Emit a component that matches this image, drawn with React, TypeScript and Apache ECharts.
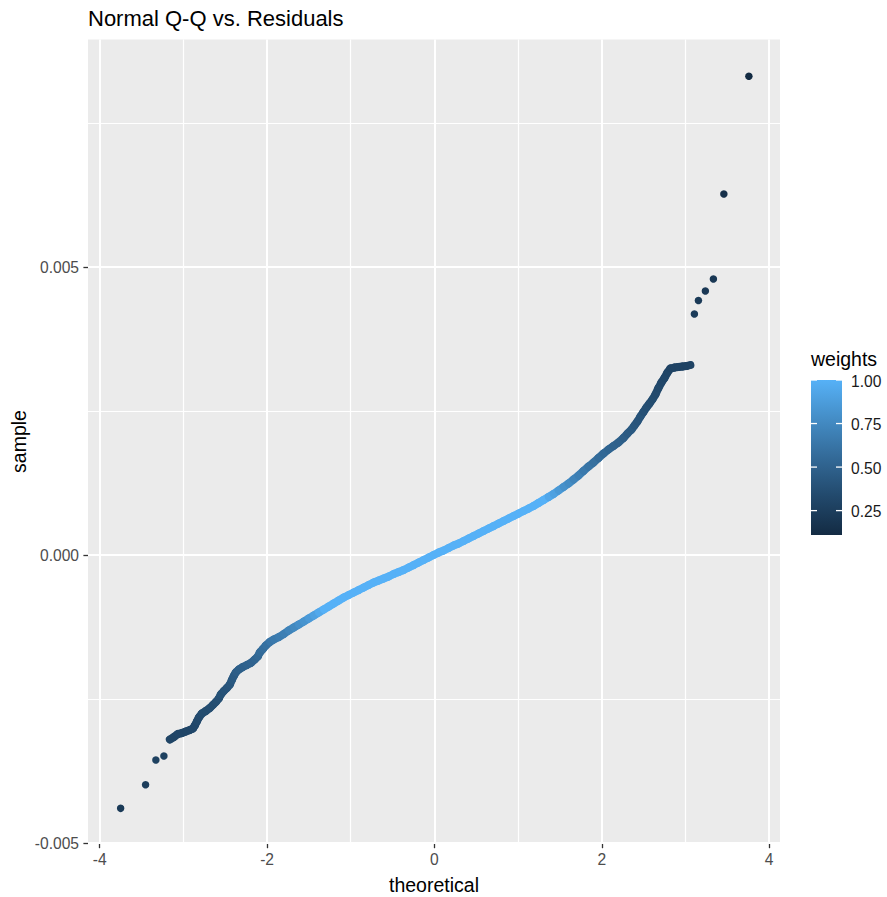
import React, { useEffect, useRef } from "react";
import * as echarts from "echarts";

// Theoretical normal quantiles (x) and sorted residuals (y), with robust weights
const theoretical = [
  -3.750, -3.452, -3.329, -3.233,
  -3.162, -3.114, -3.066, -3.018, -2.971, -2.923, -2.887, -2.863, -2.839, -2.815,
  -2.780, -2.732, -2.684, -2.648, -2.612, -2.577, -2.553, -2.517, -2.481, -2.445,
  -2.421, -2.398, -2.374, -2.338, -2.290, -2.242, -2.195, -2.147, -2.111, -2.087,
  -2.051, -2.015, -1.968, -1.920, -1.860, -1.801, -1.741, -1.681, -1.621, -1.562,
  -1.502, -1.442, -1.383, -1.323, -1.263, -1.204, -1.144, -1.084, -1.024, -0.965,
  -0.905, -0.845, -0.786, -0.726, -0.666, -0.607, -0.547, -0.487, -0.427, -0.368,
  -0.308, -0.248, -0.189, -0.129, -0.069, -0.010, 0.050, 0.110, 0.170, 0.229,
  0.289, 0.349, 0.408, 0.468, 0.528, 0.587, 0.647, 0.707, 0.767, 0.826,
  0.886, 0.946, 1.005, 1.065, 1.125, 1.184, 1.244, 1.304, 1.364, 1.423,
  1.483, 1.543, 1.602, 1.662, 1.722, 1.781, 1.841, 1.901, 1.961, 2.020,
  2.080, 2.140, 2.199, 2.259, 2.307, 2.355, 2.390, 2.426, 2.462, 2.498,
  2.534, 2.570, 2.605, 2.641, 2.677, 2.713, 2.749, 2.785, 2.820, 2.868,
  2.916, 2.964, 3.011, 3.059,
  3.107, 3.155, 3.238, 3.334, 3.459, 3.758,
];

const sample = [
  -0.004398, -0.003988, -0.003559, -0.00349,
  -0.003203, -0.00316, -0.003108, -0.00309, -0.003064, -0.003038, -0.003012, -0.00296, -0.002891, -0.002821,
  -0.002752, -0.002708, -0.002656, -0.002604, -0.002552, -0.002491, -0.002422, -0.002361, -0.002309, -0.002248,
  -0.00217, -0.002101, -0.00204, -0.001988, -0.001944, -0.00191, -0.001875, -0.001814, -0.001762, -0.001693,
  -0.001632, -0.001571, -0.00151, -0.001467, -0.001424, -0.001372, -0.001311, -0.001259, -0.001207, -0.001155,
  -0.001102, -0.00105, -0.000998, -0.000946, -0.000894, -0.000842, -0.00079, -0.000738, -0.000694, -0.000651,
  -0.000608, -0.000564, -0.000521, -0.000477, -0.000443, -0.000408, -0.000373, -0.00033, -0.000295, -0.00026,
  -0.000217, -0.000174, -0.00013, -0.000087, -0.000043, 0.0, 0.000043, 0.000078, 0.000122, 0.000165,
  0.0002, 0.000243, 0.000286, 0.00033, 0.000373, 0.000417, 0.00046, 0.000503, 0.000547, 0.00059,
  0.000634, 0.000677, 0.00072, 0.000764, 0.000807, 0.000851, 0.000903, 0.000955, 0.001007, 0.001059,
  0.00112, 0.001181, 0.001241, 0.001311, 0.00138, 0.001458, 0.001536, 0.001606, 0.001684, 0.001762,
  0.001832, 0.001892, 0.001953, 0.002031, 0.002109, 0.002179, 0.002248, 0.002318, 0.002405, 0.002483,
  0.002561, 0.00263, 0.0027, 0.002786, 0.002899, 0.002995, 0.003073, 0.003168, 0.003238, 0.003255,
  0.003264, 0.003273, 0.003281, 0.003299,
  0.004184, 0.004418, 0.004583, 0.004792, 0.006267, 0.008311,
];

const weights = [
  0.22, 0.24, 0.27, 0.27,
  0.30, 0.30, 0.31, 0.31, 0.31, 0.31, 0.32, 0.32, 0.33, 0.34,
  0.35, 0.35, 0.36, 0.36, 0.37, 0.38, 0.39, 0.40, 0.41, 0.42,
  0.44, 0.45, 0.47, 0.48, 0.49, 0.50, 0.51, 0.52, 0.54, 0.56,
  0.58, 0.60, 0.63, 0.65, 0.67, 0.69, 0.72, 0.75, 0.79, 0.82,
  0.86, 0.90, 0.95, 1, 1, 1, 1, 1, 1, 1,
  1, 1, 1, 1, 1, 1, 1, 1, 1, 1,
  1, 1, 1, 1, 1, 1, 1, 1, 1, 1,
  1, 1, 1, 1, 1, 1, 1, 1, 1, 1,
  1, 1, 1, 1, 1, 1, 1, 1, 0.94, 0.90,
  0.85, 0.80, 0.77, 0.72, 0.69, 0.65, 0.62, 0.59, 0.56, 0.54,
  0.52, 0.50, 0.49, 0.47, 0.45, 0.44, 0.42, 0.41, 0.40, 0.38,
  0.37, 0.36, 0.35, 0.34, 0.33, 0.32, 0.31, 0.30, 0.29, 0.29,
  0.29, 0.29, 0.29, 0.29,
  0.23, 0.22, 0.21, 0.20, 0.15, 0.11,
];

const xMajor = [-4, -2, 0, 2, 4];
const xMinor = [-3, -1, 1, 3];
const yMajor = [-0.005, 0, 0.005];
const yMinor = [-0.0025, 0.0025, 0.0075];
const legendBreaks = [1.0, 0.75, 0.5, 0.25];

const X_MIN = -4.14;
const X_MAX = 4.13;
const Y_MIN = -0.00501;
const Y_MAX = 0.00895;

const weightMin = 0.11;
const weightMax = 1.0;
const gradient = ["#132B43", "#22496C", "#336A98", "#448DC6", "#56B1F7"];

const FONT = "'Liberation Sans', Arial, Helvetica, sans-serif";
const POINT_SIZE = 7.5;
const BAND_WIDTH = 8;

export default function App() {
  const ref = useRef<HTMLDivElement>(null);

  useEffect(() => {
    if (!ref.current) return;
    const chart = echarts.init(ref.current, null, { renderer: "svg" });

    const points = theoretical.map((x, i) => [x, sample[i], weights[i]]);

    const major = { color: "#FFFFFF", width: 2, type: "solid" };
    const minor = { color: "#FFFFFF", width: 1.2, type: "solid" };
    const vLine = (v: number, style: any) => [
      { coord: [v, Y_MIN], lineStyle: style },
      { coord: [v, Y_MAX] },
    ];
    const hLine = (v: number, style: any) => [
      { coord: [X_MIN, v], lineStyle: style },
      { coord: [X_MAX, v] },
    ];
    const gridLines = [
      ...xMinor.map((v) => vLine(v, minor)),
      ...yMinor.map((v) => hLine(v, minor)),
      ...xMajor.map((v) => vLine(v, major)),
      ...yMajor.map((v) => hLine(v, major)),
    ];

    // colour bar legend
    const barLeft = 811;
    const barTop = 380;
    const barW = 31;
    const barH = 155;
    const tickLen = 6;
    const breakY = (v: number) => barTop + ((weightMax - v) / (weightMax - weightMin)) * barH;

    const textStyle = (text: string, size: number, fill: string, align: string) => ({
      text,
      fill,
      fontSize: size,
      fontFamily: FONT,
      textAlign: align,
      textVerticalAlign: "middle",
      align,
      verticalAlign: "middle",
    });

    const legendElements: any[] = [
      { type: "text", x: barLeft, y: 359, style: textStyle("weights", 19.5, "#000000", "left") },
      {
        type: "rect",
        shape: { x: barLeft, y: barTop, width: barW, height: barH },
        style: {
          fill: new echarts.graphic.LinearGradient(0, 0, 0, 1, [
            { offset: 0, color: gradient[4] },
            { offset: 0.25, color: gradient[3] },
            { offset: 0.5, color: gradient[2] },
            { offset: 0.75, color: gradient[1] },
            { offset: 1, color: gradient[0] },
          ]),
          lineWidth: 0,
        },
      },
    ];
    legendBreaks.forEach((v) => {
      const y = breakY(v);
      legendElements.push(
        {
          type: "line",
          shape: { x1: barLeft, y1: y, x2: barLeft + tickLen, y2: y },
          style: { stroke: "#FFFFFF", lineWidth: 1.3 },
        },
        {
          type: "line",
          shape: { x1: barLeft + barW - tickLen, y1: y, x2: barLeft + barW, y2: y },
          style: { stroke: "#FFFFFF", lineWidth: 1.3 },
        },
        { type: "text", x: barLeft + barW + 9, y: y + 1, style: textStyle(v.toFixed(2), 15.6, "#1A1A1A", "left") }
      );
    });

    // joins neighbouring points of the dense run into one continuous band
    const renderBand = (params: any, api: any) => {
      const i = params.dataIndex;
      if (i >= theoretical.length - 1) return null;
      const p0 = api.coord([api.value(0), api.value(1)]);
      const p1 = api.coord([theoretical[i + 1], sample[i + 1]]);
      const d = Math.hypot(p1[0] - p0[0], p1[1] - p0[1]);
      if (d > 8) return null;
      return {
        type: "line",
        shape: { x1: p0[0], y1: p0[1], x2: p1[0], y2: p1[1] },
        style: { stroke: api.visual("color"), lineWidth: BAND_WIDTH, lineCap: "round" },
      };
    };

    const option: any = {
      animation: false,
      backgroundColor: "#FFFFFF",
      grid: {
        left: 88,
        right: 107,
        top: 39.5,
        bottom: 53.4,
        show: true,
        backgroundColor: "#EBEBEB",
        borderWidth: 0,
        containLabel: false,
      },
      xAxis: {
        type: "value",
        min: X_MIN,
        max: X_MAX,
        axisLine: { show: false, onZero: false },
        splitLine: { show: false },
        axisTick: {
          show: true,
          customValues: xMajor,
          length: 4.6,
          lineStyle: { color: "#333333", width: 1.3 },
        },
        axisLabel: {
          customValues: xMajor,
          margin: 8,
          color: "#4D4D4D",
          fontSize: 15.6,
          fontFamily: FONT,
          formatter: (v: number) => String(v),
        },
      },
      yAxis: {
        type: "value",
        min: Y_MIN,
        max: Y_MAX,
        axisLine: { show: false, onZero: false },
        splitLine: { show: false },
        axisTick: {
          show: true,
          customValues: yMajor,
          length: 4.6,
          lineStyle: { color: "#333333", width: 1.3 },
        },
        axisLabel: {
          customValues: yMajor,
          margin: 9,
          color: "#4D4D4D",
          fontSize: 15.6,
          fontFamily: FONT,
          formatter: (v: number) => v.toFixed(3),
        },
      },
      visualMap: {
        type: "continuous",
        show: false,
        min: weightMin,
        max: weightMax,
        dimension: 2,
        seriesIndex: [0, 1],
        inRange: { color: gradient },
      },
      series: [
        {
          type: "custom",
          data: points,
          renderItem: renderBand,
          z: 2,
          silent: true,
        },
        {
          type: "scatter",
          data: points,
          symbol: "circle",
          symbolSize: POINT_SIZE,
          z: 3,
          silent: true,
          itemStyle: { opacity: 1 },
        },
        {
          type: "scatter",
          data: [],
          z: 1,
          silent: true,
          markLine: {
            silent: true,
            z: 1,
            symbol: ["none", "none"],
            label: { show: false },
            emphasis: { disabled: true },
            animation: false,
            data: gridLines,
          },
        },
      ],
      graphic: [
        { type: "text", x: 88, y: 18.7, style: textStyle("Normal Q-Q vs. Residuals", 22, "#000000", "left") },
        { type: "text", x: 434, y: 884.5, style: textStyle("theoretical", 19.5, "#000000", "center") },
        {
          type: "text",
          x: 19,
          y: 441.5,
          rotation: Math.PI / 2,
          style: textStyle("sample", 19.5, "#000000", "center"),
        },
        ...legendElements,
      ],
    };

    chart.setOption(option);
    return () => chart.dispose();
  }, []);

  return (
    <div
      ref={ref}
      style={{ position: "fixed", left: 0, top: 0, width: 887, height: 897, background: "#FFFFFF" }}
    />
  );
}
